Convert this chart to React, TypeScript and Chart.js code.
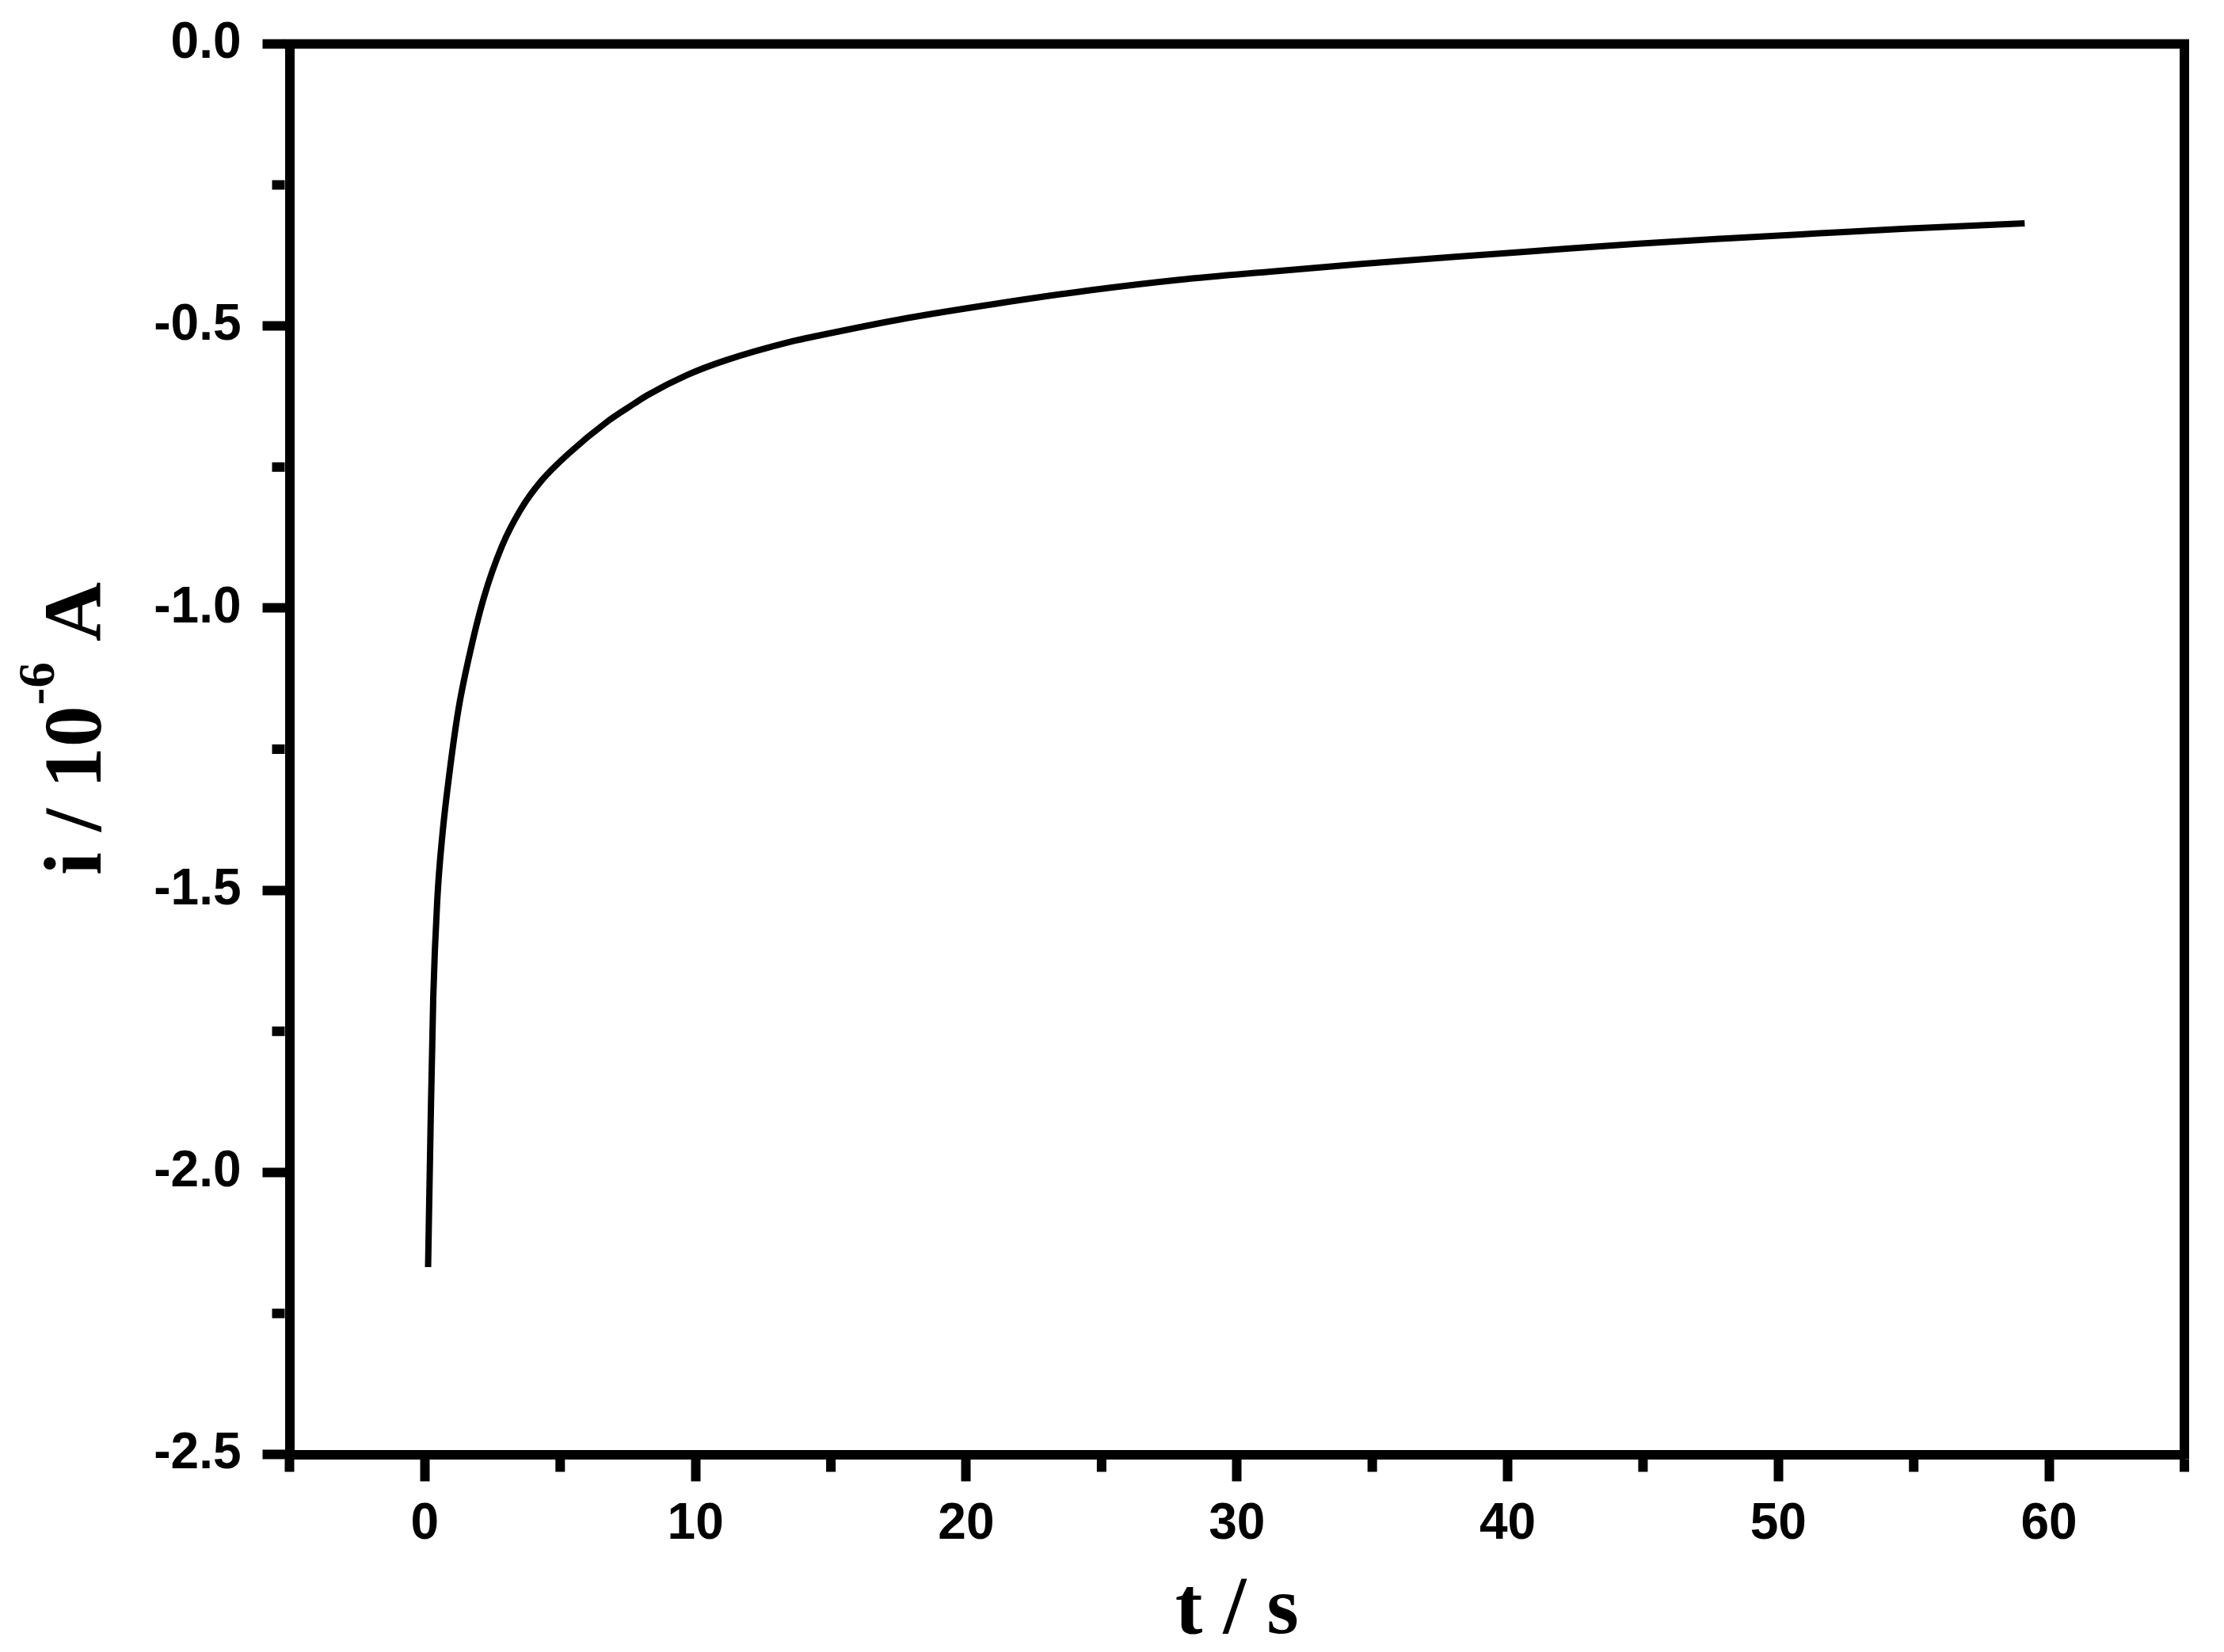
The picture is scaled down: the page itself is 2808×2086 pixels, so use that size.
import React, { useEffect, useRef } from "react";
import { Chart, registerables } from "chart.js";

Chart.register(...registerables);

// Chronoamperometric transient
const timeValues = [
  0.12, 0.21, 0.31, 0.46, 0.65, 0.9, 1.24, 1.63, 2.17, 2.85, 3.53, 4.31, 5.29,
  6.75, 7.72, 8.21, 9.68, 11.1, 13.58, 14.44, 17.8, 21.16, 24.52, 27.88, 31.24,
  34.6, 37.96, 41.3, 44.7, 48.0, 51.4, 54.7, 59.1,
];
const currentValues = [
  -2.168, -1.924, -1.692, -1.517, -1.401, -1.296, -1.18, -1.087, -0.983, -0.89,
  -0.826, -0.774, -0.727, -0.669, -0.638, -0.623, -0.587, -0.561, -0.527,
  -0.518, -0.486, -0.46, -0.437, -0.418, -0.4035, -0.39, -0.3775, -0.366,
  -0.3545, -0.345, -0.336, -0.3275, -0.318,
];

const xLabelValues = [0, 10, 20, 30, 40, 50, 60];
const xMinorValues = [-5, 5, 15, 25, 35, 45, 55, 65];
const yLabelValues = [0, -0.5, -1.0, -1.5, -2.0, -2.5];
const yMinorValues = [-0.25, -0.75, -1.25, -1.75, -2.25];

const xTitle = "t / s";
const yTitleMain = "i / 10";
const yTitleSup = "-6";
const yTitleEnd = " A";

const W = 2808;
const H = 2086;
const FRAME = 12;
const MAJOR_LEN = 34;
const MINOR_LEN = 16;

const isClose = (a: number, b: number) => Math.abs(a - b) < 1e-6;

const framePlugin = {
  id: "frameAndTitles",
  afterDraw(chart: any) {
    const ctx = chart.ctx;
    const { left, right, top, bottom } = chart.chartArea;
    const xs = chart.scales.x;
    const ys = chart.scales.y;
    ctx.save();
    ctx.strokeStyle = "#000";
    ctx.lineWidth = FRAME;
    ctx.lineJoin = "miter";
    // top + right frame
    ctx.beginPath();
    ctx.moveTo(left - FRAME / 2, top);
    ctx.lineTo(right, top);
    ctx.lineTo(right, bottom + FRAME / 2);
    ctx.stroke();
    // minor ticks
    ctx.lineCap = "butt";
    ctx.beginPath();
    for (const v of xMinorValues) {
      const px = xs.getPixelForValue(v);
      ctx.moveTo(px, bottom + FRAME / 2);
      ctx.lineTo(px, bottom + FRAME / 2 + MINOR_LEN);
    }
    for (const v of yMinorValues) {
      const py = ys.getPixelForValue(v);
      ctx.moveTo(left - FRAME / 2, py);
      ctx.lineTo(left - FRAME / 2 - MINOR_LEN, py);
    }
    ctx.stroke();

    // x title
    ctx.fillStyle = "#000";
    ctx.font = 'bold 104px "Liberation Serif", "Times New Roman", serif';
    ctx.textAlign = "center";
    ctx.textBaseline = "alphabetic";
    ctx.fillText(xTitle, (left + right) / 2, 2062);

    // y title (rotated, with superscript)
    ctx.translate(127, 1105);
    ctx.rotate(-Math.PI / 2);
    ctx.textAlign = "left";
    ctx.font = 'bold 104px "Liberation Serif", "Times New Roman", serif';
    ctx.fillText(yTitleMain, 0, 0);
    const w1 = ctx.measureText(yTitleMain).width;
    ctx.font = 'bold 65px "Liberation Serif", "Times New Roman", serif';
    ctx.fillText(yTitleSup, w1 + 1, -59);
    const w2 = ctx.measureText(yTitleSup).width;
    ctx.font = 'bold 104px "Liberation Serif", "Times New Roman", serif';
    ctx.fillText(yTitleEnd, w1 + 1 + w2, 0);
    ctx.restore();
  },
};

export default function App() {
  const ref = useRef<HTMLCanvasElement | null>(null);

  useEffect(() => {
    if (!ref.current) return;
    const tickFont = {
      family: '"Liberation Sans", Arial, sans-serif',
      size: 64,
      weight: "bold" as const,
    };
    const chart = new Chart(ref.current, {
      type: "line",
      data: {
        datasets: [
          {
            data: timeValues.map((t, i) => ({ x: t, y: currentValues[i] })),
            borderColor: "#000",
            borderWidth: 8,
            pointRadius: 0,
            fill: false,
            cubicInterpolationMode: "monotone",
          },
        ],
      },
      options: {
        animation: false,
        responsive: false,
        maintainAspectRatio: false,
        devicePixelRatio: 1,
        layout: { autoPadding: false, padding: { top: 55.5, right: 50, left: 0, bottom: 0 } },
        plugins: {
          legend: { display: false },
          tooltip: { enabled: false },
        },
        scales: {
          x: {
            type: "linear",
            min: -5,
            max: 65,
            afterFit: (s: any) => {
              s.height = H - 1836.5;
              s.paddingLeft = 0;
              s.paddingRight = 0;
            },
            border: { display: true, color: "#000", width: FRAME },
            grid: {
              drawOnChartArea: false,
              drawTicks: true,
              tickLength: MAJOR_LEN,
              tickWidth: FRAME,
              tickColor: (c: any) =>
                xLabelValues.some((v) => isClose(v, c.tick.value)) ? "#000" : "rgba(0,0,0,0)",
            },
            ticks: {
              stepSize: 5,
              autoSkip: false,
              maxRotation: 0,
              minRotation: 0,
              padding: 16,
              color: "#000",
              font: tickFont,
              callback: (v: any) => {
                const n = Number(v);
                return xLabelValues.some((x) => isClose(x, n)) ? String(Math.round(n)) : "";
              },
            },
          },
          y: {
            type: "linear",
            min: -2.5,
            max: 0,
            afterFit: (s: any) => {
              s.width = 365.5;
              s.paddingTop = 0;
              s.paddingBottom = 0;
            },
            border: { display: true, color: "#000", width: FRAME },
            grid: {
              drawOnChartArea: false,
              drawTicks: true,
              tickLength: MAJOR_LEN,
              tickWidth: FRAME,
              tickColor: (c: any) =>
                yLabelValues.some((v) => isClose(v, c.tick.value)) ? "#000" : "rgba(0,0,0,0)",
            },
            ticks: {
              stepSize: 0.25,
              autoSkip: false,
              padding: 27,
              color: "#000",
              font: tickFont,
              callback: (v: any) => {
                const n = Number(v);
                return yLabelValues.some((y) => isClose(y, n)) ? n.toFixed(1) : "";
              },
            },
          },
        },
      },
      plugins: [framePlugin],
    });
    return () => chart.destroy();
  }, []);

  return (
    <div style={{ position: "absolute", left: 0, top: 0, width: W, height: H, background: "#fff" }}>
      <canvas ref={ref} width={W} height={H} style={{ display: "block", width: W, height: H }} />
    </div>
  );
}
